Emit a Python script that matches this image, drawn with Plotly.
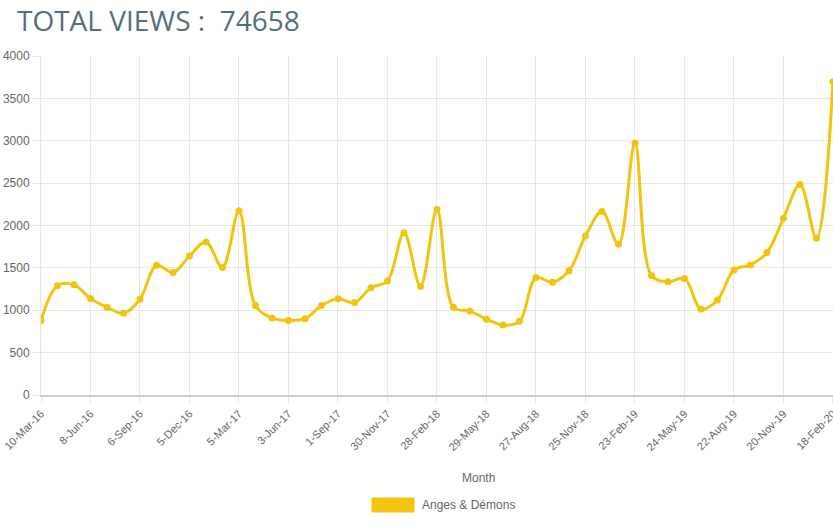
import plotly.graph_objects as go
import pandas as pd

# Monthly views (one sample every 30 days starting 10-Mar-16)
views = [880, 1290, 1300, 1140, 1035, 965, 1130, 1530, 1445, 1640, 1805, 1505,
         2175, 1055, 910, 880, 900, 1055, 1135, 1090, 1265, 1345, 1915, 1280,
         2190, 1035, 990, 895, 825, 870, 1385, 1330, 1465, 1875, 2165, 1780,
         2970, 1410, 1335, 1375, 1015, 1120, 1475, 1535, 1680, 2085, 2485, 1850,
         3695]
dates = pd.date_range(start="2016-03-10", periods=len(views), freq="30D")

tick_labels = ["10-Mar-16", "8-Jun-16", "6-Sep-16", "5-Dec-16", "5-Mar-17", "3-Jun-17",
               "1-Sep-17", "30-Nov-17", "28-Feb-18", "29-May-18", "27-Aug-18", "25-Nov-18",
               "23-Feb-19", "24-May-19", "22-Aug-19", "20-Nov-19", "18-Feb-20"]
tick_dates = dates[::3]

series_name = "Anges & Démons"
total_views = 74658

yellow = "#f2c40d"
grid = "#e6e6e6"
font_family = "Arial, Liberation Sans, sans-serif"

W, H = 833, 528
plot_l, plot_r, plot_t, plot_b = 41, 833, 56, 395
pw, ph = plot_r - plot_l, plot_b - plot_t


def px_x(x):
    return (x - plot_l) / pw


def px_y(y):
    return (plot_b - y) / ph


fig = go.Figure()

fig.add_trace(go.Scatter(
    x=dates,
    y=views,
    mode='lines+markers',
    name=series_name,
    line=dict(color=yellow, width=3, shape='spline', smoothing=1.0),
    marker=dict(color=yellow, size=7),
    showlegend=False
))

# Chart.js-style legend box
fig.add_shape(type='rect', xref='paper', yref='paper',
              x0=px_x(372), x1=px_x(414), y0=px_y(512), y1=px_y(498),
              fillcolor=yellow, line=dict(color=yellow, width=1))
fig.add_annotation(text=series_name, xref='paper', yref='paper',
                   x=px_x(420), y=px_y(505),
                   xanchor='left', yanchor='middle', showarrow=False,
                   font=dict(size=12, color='#666666', family=font_family))

# Axis title
fig.add_annotation(text="Month", xref='paper', yref='paper',
                   x=px_x(478), y=px_y(478),
                   xanchor='center', yanchor='middle', showarrow=False,
                   font=dict(size=12, color='#666666', family=font_family))

fig.update_layout(
    width=W,
    height=H,
    title=dict(text=f"TOTAL VIEWS :  {total_views}", x=17 / W, xanchor='left',
               y=1 - 21 / H, yanchor='middle',
               font=dict(size=28, color='#566d7e', family="Open Sans")),
    margin=dict(l=plot_l, r=W - plot_r, t=plot_t, b=H - plot_b),
    plot_bgcolor='white',
    paper_bgcolor='white',
    xaxis=dict(
        range=[dates[0], dates[-1] + pd.Timedelta(hours=2)],
        tickvals=tick_dates,
        ticktext=tick_labels,
        tickangle=-45,
        ticklabeloverflow='allow',
        tickfont=dict(size=11, color='#666666', family=font_family),
        showgrid=True, gridcolor=grid, gridwidth=1,
        ticks='outside', ticklen=6, tickcolor=grid,
        showline=True, linecolor='#cccccc', linewidth=2,
        automargin=False
    ),
    yaxis=dict(
        range=[0, 4000],
        dtick=500,
        tickfont=dict(size=12, color='#666666', family=font_family),
        showgrid=True, gridcolor=grid, gridwidth=1,
        zeroline=False,
        ticks='outside', ticklen=8, tickcolor=grid,
        showline=True, linecolor=grid, linewidth=1,
        automargin=False
    ),
    font=dict(family=font_family)
)

# drop the browser's default 8px body margin so the figure fills the window
fig.write_html("out.html",
               config={'displayModeBar': False},
               post_script="document.body.style.margin='0';document.body.style.overflow='hidden';")
